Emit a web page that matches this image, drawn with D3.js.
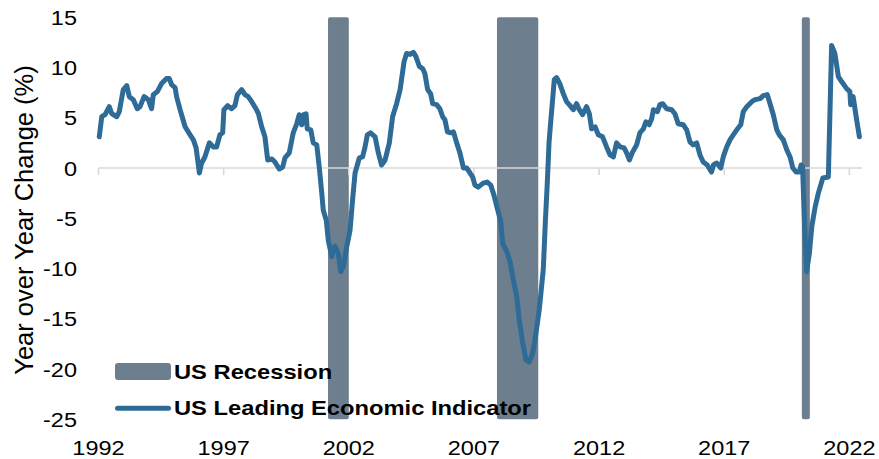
<!DOCTYPE html>
<html>
<head>
<meta charset="utf-8">
<script src="https://cdn.jsdelivr.net/npm/d3@7"></script>
<style>
  html, body { margin: 0; padding: 0; background: #fff; }
  svg { display: block; }
  text { font-family: "Liberation Sans", Arial, sans-serif; fill: #000; }
</style>
</head>
<body>
<svg id="chart" width="879" height="459"></svg>
<script>
// ---- Data (decimal years) ----
const dates = [
  1992.03,1992.13,1992.26,1992.43,1992.53,1992.73,1992.83,1992.99,1993.13,1993.23,1993.39,1993.55,1993.66,1993.82,1993.99,
  1994.12,1994.19,1994.35,1994.52,1994.72,1994.83,1994.92,1995.06,1995.12,1995.26,1995.46,1995.66,1995.79,1995.90,
  1996.03,1996.12,1996.25,1996.43,1996.59,1996.72,1996.85,1996.96,1997.01,1997.16,1997.32,1997.45,1997.55,1997.72,1997.85,1997.98,
  1998.12,1998.29,1998.39,1998.52,1998.65,1998.76,1998.92,1999.05,1999.22,1999.36,1999.45,1999.62,1999.78,1999.92,
  2000.02,2000.12,2000.18,2000.29,2000.34,2000.48,2000.58,2000.72,2000.82,2000.92,2000.98,
  2001.10,2001.18,2001.32,2001.45,2001.58,2001.68,2001.78,2001.92,2002.05,2002.15,2002.25,2002.42,2002.55,2002.65,2002.74,2002.87,
  2003.05,2003.18,2003.31,2003.45,2003.62,2003.75,2003.91,2004.05,2004.21,2004.31,2004.45,2004.58,2004.68,2004.82,2004.95,
  2005.04,2005.15,2005.27,2005.35,2005.51,2005.64,2005.75,2005.84,2005.94,2006.07,2006.18,2006.31,2006.44,2006.58,2006.71,2006.82,2006.95,
  2007.04,2007.17,2007.37,2007.53,2007.67,2007.80,2007.93,2008.07,2008.15,2008.31,2008.44,2008.57,2008.71,2008.81,2008.95,
  2009.08,2009.21,2009.35,2009.48,2009.61,2009.77,2009.85,2009.93,2010.00,2010.08,2010.15,2010.21,2010.30,2010.43,2010.57,2010.70,2010.84,2010.97,
  2011.10,2011.21,2011.34,2011.50,2011.61,2011.70,2011.84,2011.97,2012.14,2012.30,2012.44,2012.57,2012.70,2012.84,
  2013.00,2013.10,2013.21,2013.34,2013.50,2013.63,2013.77,2013.87,2014.00,2014.10,2014.17,2014.33,2014.43,2014.54,2014.70,2014.90,
  2015.03,2015.16,2015.36,2015.50,2015.63,2015.76,2015.90,2016.03,2016.16,2016.32,2016.49,2016.57,2016.70,2016.86,2016.96,
  2017.10,2017.23,2017.36,2017.50,2017.66,2017.76,2017.90,2018.10,2018.23,2018.43,2018.56,2018.72,2018.83,2018.96,
  2019.10,2019.20,2019.36,2019.50,2019.63,2019.74,2019.87,2020.00,2020.07,2020.13,2020.20,2020.29,2020.40,2020.50,2020.63,2020.76,2020.94,
  2021.16,2021.29,2021.42,2021.56,2021.69,2021.89,2022.02,2022.05,2022.15,2022.29,2022.40
];
const leiValues = [
  3.1,5.1,5.3,6.1,5.4,5.1,5.6,7.8,8.2,7.1,6.8,5.9,6.1,7.1,6.8,
  5.9,7.3,7.6,8.4,8.9,8.9,8.3,8.0,7.1,5.8,4.1,3.3,2.8,2.0,
  -0.5,0.5,1.1,2.5,2.1,2.1,3.3,3.5,5.8,6.2,5.9,6.2,7.3,7.8,7.3,7.1,
  6.6,5.9,5.4,4.1,3.1,0.8,0.9,0.6,-0.1,0.1,1.0,1.5,3.5,4.4,
  5.3,4.3,5.3,5.4,3.9,3.8,2.5,2.3,0.1,-2.5,-4.2,
  -5.2,-7.2,-8.8,-7.8,-8.5,-10.3,-9.8,-7.8,-6.2,-3.2,-0.5,1.0,1.1,2.1,3.3,3.5,
  3.1,1.5,0.3,0.8,2.5,5.1,6.4,7.8,10.6,11.4,11.3,11.5,11.1,10.1,9.9,
  9.4,7.8,7.4,6.4,6.3,5.9,5.1,4.8,3.6,3.5,3.6,2.5,1.5,0.0,0.0,-0.4,-0.9,
  -1.7,-1.9,-1.5,-1.4,-1.7,-2.7,-4.0,-5.3,-7.5,-8.3,-9.3,-11.1,-12.8,-15.1,-17.4,
  -19.1,-19.3,-18.4,-16.4,-14.1,-10.1,-5.5,-1.5,2.5,5.0,7.0,8.8,9.0,8.4,7.4,6.6,6.2,5.8,
  6.4,5.8,5.3,6.1,5.4,3.9,4.1,3.3,3.1,2.1,1.3,1.1,2.5,2.1,
  2.0,1.5,0.8,1.6,2.3,3.5,3.9,4.6,4.3,4.9,5.8,5.6,6.3,6.4,5.9,5.8,
  5.4,4.4,4.3,3.8,2.6,2.3,2.5,1.3,0.6,0.3,-0.4,0.3,0.5,0.0,1.1,
  2.1,2.8,3.3,3.8,4.3,5.6,6.1,6.6,6.8,6.9,7.2,7.3,6.4,5.3,
  3.8,3.3,2.8,1.8,1.1,0.0,-0.4,-0.4,0.3,0.1,-5.0,-10.3,-8.5,-5.8,-3.9,-2.5,-1.0,
  -0.9,12.2,11.4,9.1,8.6,7.9,7.6,6.3,7.1,4.8,3.1
];
const recessionStart = [2001.17, 2007.92, 2020.10];
const recessionEnd   = [2002.00, 2009.57, 2020.42];
const xTickYears = [1992, 1997, 2002, 2007, 2012, 2017, 2022];
const yTicks = [15, 10, 5, 0, -5, -10, -15, -20, -25];
const yTitle = "Year over Year Change (%)";
const legendLabels = ["US Recession", "US Leading Economic Indicator"];

// ---- Styles ----
const barColor = "#6D7F8E";
const lineColor = "#2E6B96";
const gridColor = "#D9D9D9";

const svg = d3.select("#chart");
const x = d3.scaleLinear().domain([1992, 2022.5]).range([98.5, 861.9]);
const y = d3.scaleLinear().domain([-25, 15]).range([419.25, 17.25]);

// recession bars
svg.append("g").selectAll("rect")
  .data(recessionStart.map((s, i) => ({ s, e: recessionEnd[i] })))
  .join("rect")
  .attr("x", d => x(d.s))
  .attr("width", d => x(d.e) - x(d.s))
  .attr("y", y(15))
  .attr("height", y(-25) - y(15))
  .attr("rx", 2)
  .attr("fill", barColor);

// zero line + ticks
svg.append("line")
  .attr("x1", x(1992)).attr("x2", x(2022.5))
  .attr("y1", y(0)).attr("y2", y(0))
  .attr("stroke", gridColor).attr("stroke-width", 1.6);
svg.append("g").selectAll("line")
  .data(xTickYears)
  .join("line")
  .attr("x1", d => x(d)).attr("x2", d => x(d))
  .attr("y1", y(0)).attr("y2", y(0) + 7)
  .attr("stroke", gridColor).attr("stroke-width", 1.6);

// line
const pts = dates.map((d, i) => [d, leiValues[i]]);
svg.append("path")
  .datum(pts)
  .attr("fill", "none")
  .attr("stroke", lineColor)
  .attr("stroke-width", 5)
  .attr("stroke-linejoin", "round")
  .attr("stroke-linecap", "round")
  .attr("d", d3.line().x(d => x(d[0])).y(d => y(d[1])));

// y tick labels
svg.append("g").selectAll("g")
  .data(yTicks)
  .join("g")
  .attr("transform", d => `translate(77,${y(d)}) scale(1.12,1)`)
  .append("text")
  .attr("text-anchor", "end")
  .attr("dy", "0.36em")
  .style("font-size", "21px")
  .text(d => d);

// x tick labels
svg.append("g").selectAll("g")
  .data(xTickYears)
  .join("g")
  .attr("transform", d => `translate(${x(d)},455) scale(1.12,1)`)
  .append("text")
  .attr("text-anchor", "middle")
  .style("font-size", "21px")
  .text(d => d);

// y title
svg.append("text")
  .attr("transform", "translate(33,220) rotate(-90)")
  .attr("text-anchor", "middle")
  .style("font-size", "25.5px")
  .text(yTitle);

// legend
svg.append("rect")
  .attr("x", 115).attr("y", 363).attr("width", 56).attr("height", 17)
  .attr("rx", 3).attr("fill", barColor);
svg.append("line")
  .attr("x1", 117.5).attr("x2", 168.5).attr("y1", 408.3).attr("y2", 408.3)
  .attr("stroke", lineColor).attr("stroke-width", 5).attr("stroke-linecap", "round");
svg.append("g").selectAll("g")
  .data(legendLabels)
  .join("g")
  .attr("transform", (d, i) => `translate(174,${378.5 + i * 36.8}) scale(1.13,1)`)
  .append("text")
  .style("font-size", "21px")
  .style("font-weight", "bold")
  .text(d => d);
</script>
</body>
</html>
